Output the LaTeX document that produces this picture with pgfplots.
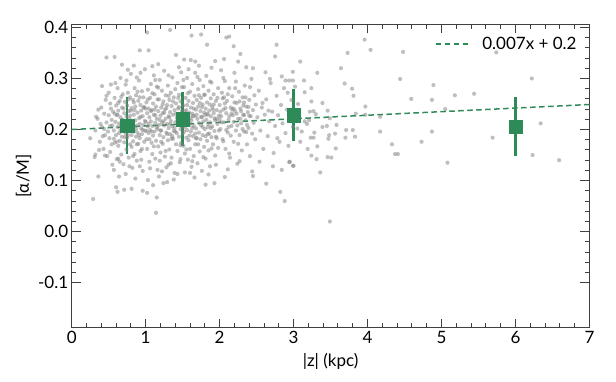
\documentclass[border=0pt]{standalone}
\usepackage{fontspec}
\setmainfont{Lato}
\usepackage{pgfplots}
\pgfplotsset{compat=1.18}
\usepackage{pgfplotstable}

\definecolor{sg}{RGB}{46,139,87}
\definecolor{axgray}{RGB}{64,64,64}
\definecolor{dotgray}{RGB}{128,128,128}

% individual stars: |z| (kpc), [alpha/M]
\pgfplotstableread{
x y
0.32 0.198
0.35 0.221
0.38 0.176
0.40 0.243
0.41 0.205
0.43 0.162
0.44 0.231
0.45 0.189
0.46 0.258
0.47 0.214
0.48 0.148
0.49 0.196
0.50 0.272
0.50 0.228
0.51 0.183
0.52 0.207
0.52 0.156
0.53 0.241
0.54 0.219
0.54 0.171
0.36 0.239
0.39 0.211
0.42 0.187
0.45 0.149
0.47 0.266
0.53 0.288
0.55 0.131
0.33 0.225
0.37 0.160
0.44 0.201
0.56 0.235
0.57 0.198
0.58 0.262
0.58 0.174
0.59 0.215
0.60 0.247
0.60 0.189
0.61 0.228
0.61 0.142
0.62 0.205
0.62 0.281
0.63 0.168
0.63 0.237
0.64 0.212
0.64 0.193
0.65 0.256
0.65 0.178
0.66 0.224
0.66 0.301
0.67 0.151
0.67 0.209
0.68 0.243
0.68 0.186
0.69 0.269
0.69 0.219
0.70 0.132
0.70 0.201
0.71 0.232
0.71 0.175
0.72 0.254
0.72 0.213
0.73 0.192
0.73 0.288
0.74 0.161
0.74 0.226
0.75 0.247
0.75 0.184
0.76 0.207
0.76 0.272
0.77 0.145
0.77 0.236
0.78 0.198
0.78 0.221
0.79 0.263
0.79 0.171
0.80 0.214
0.80 0.309
0.81 0.189
0.81 0.242
0.82 0.125
0.82 0.204
0.83 0.258
0.83 0.177
0.84 0.229
0.84 0.196
0.85 0.281
0.85 0.152
0.86 0.218
0.86 0.245
0.87 0.186
0.87 0.267
0.88 0.208
0.88 0.139
0.89 0.233
0.89 0.194
0.90 0.256
0.90 0.172
0.91 0.222
0.91 0.296
0.92 0.183
0.92 0.211
0.93 0.248
0.93 0.158
0.94 0.202
0.94 0.237
0.95 0.275
0.95 0.191
0.96 0.119
0.96 0.226
0.97 0.209
0.97 0.263
0.98 0.176
0.98 0.244
0.99 0.198
0.99 0.318
0.57 0.121
0.64 0.108
0.73 0.113
0.86 0.104
0.92 0.128
0.59 0.291
0.76 0.317
0.88 0.302
0.68 0.327
0.63 0.143
0.83 0.148
1.00 0.215
1.01 0.253
1.01 0.181
1.02 0.232
1.02 0.162
1.03 0.206
1.03 0.278
1.04 0.193
1.04 0.241
1.05 0.224
1.05 0.137
1.06 0.262
1.06 0.199
1.07 0.216
1.07 0.289
1.08 0.174
1.08 0.238
1.09 0.207
1.09 0.152
1.10 0.251
1.10 0.188
1.11 0.229
1.11 0.306
1.12 0.196
1.12 0.269
1.13 0.143
1.13 0.213
1.14 0.245
1.14 0.178
1.15 0.221
1.15 0.284
1.16 0.201
1.16 0.121
1.17 0.236
1.17 0.167
1.18 0.259
1.18 0.209
1.19 0.189
1.19 0.297
1.20 0.227
1.20 0.155
1.21 0.243
1.21 0.198
1.22 0.276
1.22 0.214
1.23 0.172
1.23 0.232
1.24 0.255
1.24 0.185
1.25 0.208
1.25 0.315
1.26 0.147
1.26 0.239
1.27 0.221
1.27 0.267
1.28 0.194
1.28 0.126
1.29 0.248
1.29 0.211
1.30 0.179
1.30 0.286
1.31 0.226
1.31 0.203
1.32 0.258
1.32 0.161
1.33 0.234
1.33 0.191
1.34 0.272
1.34 0.217
1.35 0.145
1.35 0.246
1.36 0.206
1.36 0.302
1.37 0.182
1.37 0.229
1.38 0.263
1.38 0.197
1.39 0.115
1.39 0.238
1.40 0.214
1.40 0.279
1.41 0.171
1.41 0.251
1.42 0.223
1.42 0.193
1.43 0.291
1.43 0.158
1.44 0.241
1.44 0.209
1.45 0.268
1.45 0.186
1.46 0.227
1.46 0.136
1.47 0.255
1.47 0.201
1.48 0.174
1.48 0.312
1.49 0.236
1.49 0.219
1.03 0.101
1.18 0.108
1.31 0.131
1.45 0.322
1.09 0.324
1.38 0.102
1.22 0.118
1.50 0.192
1.51 0.247
1.51 0.168
1.52 0.228
1.52 0.283
1.53 0.205
1.53 0.153
1.54 0.262
1.54 0.214
1.55 0.184
1.55 0.238
1.56 0.301
1.56 0.199
1.57 0.221
1.57 0.141
1.58 0.256
1.58 0.179
1.59 0.233
1.59 0.209
1.60 0.274
1.60 0.162
1.61 0.243
1.61 0.196
1.62 0.218
1.62 0.127
1.63 0.289
1.63 0.231
1.64 0.187
1.64 0.252
1.65 0.207
1.65 0.148
1.66 0.266
1.66 0.226
1.67 0.171
1.67 0.311
1.68 0.239
1.68 0.202
1.69 0.258
1.69 0.183
1.70 0.221
1.70 0.134
1.71 0.279
1.71 0.245
1.72 0.194
1.72 0.213
1.73 0.157
1.73 0.297
1.74 0.236
1.74 0.181
1.75 0.262
1.75 0.208
1.76 0.224
1.76 0.119
1.77 0.249
1.77 0.189
1.78 0.285
1.78 0.216
1.79 0.166
1.79 0.233
1.80 0.201
1.80 0.268
1.81 0.143
1.81 0.241
1.82 0.219
1.82 0.305
1.83 0.178
1.83 0.253
1.84 0.205
1.84 0.229
1.85 0.159
1.85 0.276
1.86 0.237
1.86 0.192
1.87 0.214
1.87 0.128
1.88 0.261
1.88 0.226
1.89 0.185
1.89 0.292
1.90 0.244
1.90 0.206
1.91 0.171
1.92 0.232
1.92 0.269
1.93 0.197
1.94 0.218
1.94 0.149
1.95 0.256
1.96 0.238
1.96 0.183
1.97 0.211
1.98 0.281
1.98 0.164
1.99 0.227
1.58 0.318
1.72 0.325
1.89 0.321
1.66 0.106
1.85 0.112
1.53 0.116
2.00 0.248
2.01 0.201
2.02 0.226
2.03 0.272
2.04 0.181
2.05 0.239
2.06 0.214
2.07 0.295
2.08 0.162
2.09 0.232
2.10 0.256
2.11 0.194
2.12 0.219
2.13 0.281
2.14 0.145
2.15 0.243
2.16 0.207
2.17 0.265
2.18 0.228
2.19 0.176
2.20 0.311
2.21 0.236
2.22 0.198
2.23 0.252
2.24 0.133
2.25 0.221
2.26 0.274
2.27 0.189
2.28 0.241
2.29 0.212
2.30 0.159
2.31 0.263
2.32 0.229
2.33 0.196
2.34 0.286
2.35 0.218
2.36 0.245
2.37 0.171
2.38 0.234
2.39 0.203
2.40 0.258
2.41 0.148
2.42 0.226
2.43 0.299
2.44 0.192
2.45 0.238
2.46 0.213
2.47 0.267
2.48 0.181
2.49 0.249
2.02 0.316
2.11 0.122
2.27 0.138
2.36 0.322
2.44 0.118
2.06 0.263
2.19 0.241
2.33 0.253
2.51 0.224
2.53 0.276
2.55 0.198
2.57 0.243
2.59 0.162
2.61 0.229
2.63 0.259
2.65 0.187
2.67 0.216
2.69 0.291
2.71 0.235
2.73 0.154
2.75 0.207
2.77 0.266
2.79 0.228
2.81 0.176
2.83 0.248
2.85 0.212
2.87 0.281
2.89 0.193
2.91 0.239
2.93 0.168
2.95 0.225
2.97 0.258
2.99 0.205
2.54 0.137
2.62 0.312
2.72 0.128
2.84 0.304
2.58 0.252
2.66 0.237
2.78 0.183
2.92 0.272
0.55 0.208
0.58 0.231
0.61 0.176
0.63 0.252
0.66 0.199
0.68 0.219
0.70 0.241
0.72 0.185
0.74 0.204
0.77 0.259
0.79 0.227
0.81 0.166
0.83 0.213
0.85 0.238
0.87 0.201
0.89 0.274
0.91 0.189
0.93 0.225
0.95 0.162
0.97 0.243
0.99 0.217
1.01 0.197
1.03 0.259
1.05 0.181
1.07 0.236
1.09 0.271
1.11 0.167
1.13 0.228
1.15 0.204
1.17 0.282
1.19 0.219
1.21 0.176
1.23 0.249
1.25 0.233
1.27 0.158
1.29 0.191
1.31 0.266
1.33 0.211
1.35 0.182
1.37 0.255
1.39 0.203
1.41 0.231
1.43 0.217
1.45 0.244
1.47 0.169
1.49 0.283
1.51 0.207
1.53 0.236
1.55 0.161
1.57 0.271
1.59 0.188
1.61 0.223
1.63 0.203
1.65 0.241
1.67 0.192
1.69 0.229
1.71 0.171
1.73 0.252
1.75 0.225
1.77 0.205
1.79 0.268
1.81 0.187
1.83 0.231
1.85 0.211
1.87 0.249
1.89 0.163
1.91 0.239
1.93 0.222
1.95 0.186
1.97 0.262
1.99 0.198
2.01 0.235
2.03 0.214
2.05 0.177
2.07 0.251
2.09 0.199
2.11 0.269
2.13 0.226
2.15 0.188
2.17 0.239
2.19 0.215
2.21 0.281
2.23 0.231
2.25 0.172
2.27 0.255
2.29 0.236
2.31 0.201
2.33 0.228
2.35 0.263
2.37 0.209
2.39 0.244
0.62 0.229
0.67 0.264
0.71 0.206
0.76 0.189
0.80 0.237
0.84 0.253
0.88 0.171
0.92 0.263
0.96 0.199
1.00 0.241
1.04 0.211
1.08 0.196
1.12 0.239
1.16 0.259
1.20 0.198
1.24 0.216
1.28 0.242
1.32 0.224
1.36 0.187
1.40 0.196
1.44 0.262
1.48 0.214
1.52 0.196
1.56 0.248
1.60 0.212
1.64 0.227
1.68 0.183
1.72 0.267
1.76 0.244
1.80 0.228
1.84 0.191
1.88 0.203
1.92 0.249
1.96 0.221
2.00 0.219
2.04 0.261
2.08 0.242
2.12 0.205
2.16 0.231
2.20 0.253
2.24 0.208
2.28 0.221
2.32 0.247
2.36 0.195
2.40 0.227
0.52 0.251
0.57 0.182
0.65 0.137
0.78 0.128
0.94 0.141
1.06 0.124
1.19 0.139
1.34 0.134
1.47 0.142
1.63 0.138
1.78 0.146
1.95 0.131
2.13 0.153
0.74 0.296
0.93 0.311
1.13 0.297
1.31 0.306
1.51 0.297
1.70 0.303
1.87 0.294
2.05 0.301
2.22 0.294
2.41 0.283
3.96 0.376
3.73 0.350
4.04 0.356
4.48 0.352
3.09 0.333
2.99 0.313
3.32 0.311
3.64 0.320
2.99 0.296
3.14 0.296
3.69 0.290
4.44 0.299
3.02 0.284
3.24 0.281
3.79 0.280
4.89 0.287
3.15 0.273
3.81 0.266
4.59 0.260
4.87 0.258
3.24 0.255
3.39 0.252
3.06 0.250
3.97 0.245
3.46 0.237
3.22 0.235
3.27 0.236
3.30 0.230
3.84 0.231
3.97 0.229
4.17 0.225
3.49 0.222
3.15 0.216
3.21 0.218
3.18 0.211
3.45 0.207
3.39 0.205
3.58 0.209
3.05 0.202
3.11 0.196
3.71 0.199
3.80 0.199
3.28 0.194
4.17 0.196
3.56 0.192
3.48 0.189
3.83 0.186
3.70 0.184
3.23 0.184
3.27 0.184
3.47 0.182
3.09 0.176
4.73 0.176
4.33 0.171
3.32 0.167
3.57 0.163
3.19 0.162
4.37 0.152
4.41 0.152
3.24 0.149
3.46 0.146
3.51 0.145
3.31 0.142
4.87 0.196
2.95 0.137
2.99 0.129
3.36 0.116
3.49 0.020
5.74 0.351
6.22 0.300
5.18 0.267
5.44 0.270
5.05 0.240
6.34 0.212
5.69 0.184
6.23 0.150
6.59 0.140
5.08 0.135
1.02 0.390
1.33 0.395
0.92 0.355
1.04 0.355
0.47 0.341
0.58 0.342
0.84 0.325
1.17 0.328
0.25 0.183
0.29 0.064
1.14 0.037
0.36 0.108
0.60 0.087
0.71 0.082
0.81 0.084
0.62 0.078
1.02 0.076
0.96 0.080
1.15 0.067
1.10 0.091
1.24 0.095
1.29 0.097
0.31 0.146
0.32 0.151
0.41 0.285
1.62 0.384
1.75 0.386
2.09 0.380
2.13 0.382
1.83 0.366
2.19 0.363
2.77 0.366
1.41 0.346
2.28 0.348
2.75 0.343
1.94 0.334
2.06 0.338
2.25 0.333
1.52 0.337
1.61 0.336
1.67 0.333
1.81 0.092
1.93 0.095
2.07 0.107
2.45 0.109
2.63 0.094
2.82 0.078
2.88 0.060
1.60 0.115
2.84 0.121
2.94 0.136
3.00 0.129
1.43 0.113
2.94 0.296
2.68 0.299
2.89 0.296
2.45 0.320
}\stars

% binned means with scatter
\pgfplotstableread{
x y ey
0.75 0.208 0.056
1.50 0.220 0.053
3.00 0.228 0.051
6.00 0.206 0.057
}\bins

\begin{document}
\begin{tikzpicture}
\begin{axis}[
  at={(0,0)}, anchor=south west,
  scale only axis, width=517.8pt, height=303.4pt,
  xmin=0, xmax=7, ymin=-0.188, ymax=0.406,
  xtick={0,1,...,7},
  ytick={-0.1,0,0.1,0.2,0.3,0.4},
  yticklabels={-0.1,0.0,0.1,0.2,0.3,0.4},
  minor x tick num=4, minor y tick num=4,
  tick align=inside,
  major tick length=9pt, minor tick length=4.5pt,
  axis line style={axgray, line width=1.2pt},
  every tick/.style={axgray, line width=1pt},
  /pgf/number format/assume math mode=true,
  tick label style={font=\fontsize{17}{20}\selectfont, text=black},
  label style={font=\fontsize{17}{20}\selectfont},
  xlabel={|z| (kpc)},
  xlabel style={yshift=-3pt},
  ylabel={[α/M]},
  legend style={draw=none, fill=none, at={(rel axis cs:0.985,0.972)}, anchor=north east,
    font=\fontsize{17}{20}\selectfont,
    /tikz/every odd column/.append style={column sep=9pt}},
  legend cell align=left,
  legend image code/.code={\draw[#1] (0pt,0pt) -- (35pt,0pt);},
  clip=false,
]
\addplot[dotgray, only marks, mark=*, mark size=2.1pt, forget plot,
  mark options={draw=dotgray, fill=dotgray, line width=0pt, draw opacity=0, fill opacity=0.5}]
  table[x=x, y=y] {\stars};
\addplot[sg, line width=1.5pt, dash pattern=on 5.5pt off 3.5pt]
  coordinates {(0,0.2) (7,0.249)};
\addlegendentry{0.007x + 0.2}
\addplot[sg, only marks, mark=square*, mark size=6.7pt, forget plot,
  mark options={draw=sg, fill=sg},
  error bars/.cd, y dir=both, y explicit,
  error mark=none, error bar style={sg, line width=2.5pt}]
  table[x=x, y=y, y error=ey] {\bins};
\end{axis}
\pgfresetboundingbox
\path[use as bounding box] (-71.7pt,-53.3pt) rectangle (544.3pt,327.7pt);
\end{tikzpicture}
\end{document}
